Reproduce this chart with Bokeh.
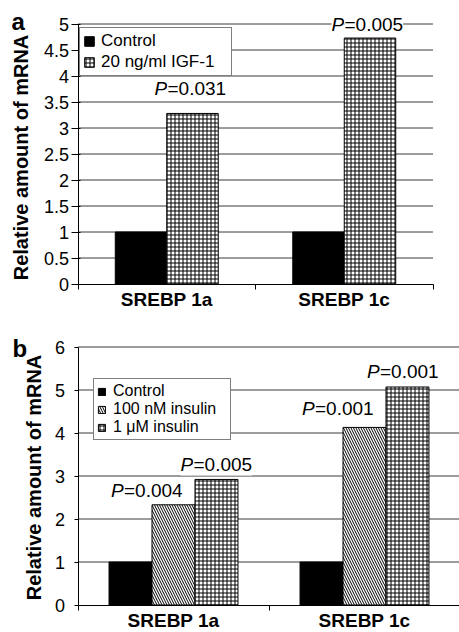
import math
from bokeh.plotting import figure
from bokeh.layouts import column
from bokeh.models import Range1d, FixedTicker, Label, LabelSet, ColumnDataSource
from bokeh.core.properties import value
from bokeh.embed import file_html
from bokeh.resources import INLINE

# ---------------- data ----------------
CATEGORIES = ["SREBP 1a", "SREBP 1c"]

A_SERIES = ["Control", "20 ng/ml IGF-1"]
A_CONTROL = [1.0, 1.0]
A_IGF = [3.28, 4.73]
A_P_TEXT = ["=0.031", "=0.005"]
A_YTICKS = [0, 0.5, 1, 1.5, 2, 2.5, 3, 3.5, 4, 4.5, 5]
A_YLABELS = ["0", "0.5", "1", "1.5", "2", "2.5", "3", "3.5", "4", "4.5", "5"]

B_SERIES = ["Control", "100 nM insulin", "1 \u03bcM insulin"]
B_CONTROL = [1.0, 1.0]
B_INS100 = [2.33, 4.13]
B_INS1 = [2.92, 5.07]
B_P100_TEXT = ["=0.004", "=0.001"]
B_P1_TEXT = ["=0.005", "=0.001"]
B_YTICKS = [0, 1, 2, 3, 4, 5, 6]
B_YLABELS = ["0", "1", "2", "3", "4", "5", "6"]

Y_TITLE = "Relative amount of mRNA"
P_LETTER = "P"
PANEL_A = "a"
PANEL_B = "b"

# ---------------- style / layout ----------------
FONT = "Liberation Sans"
GRID = "#3a3a3a"
P_SIZE = "19px"
P_SHIFT = 13
W = 459

CAT_POS = [i + 0.5 for i in range(len(CATEGORIES))]


class Geo:
    """pixel layout of one panel: canvas position of data (0,0) and px per unit"""
    def __init__(self, height, x0, y0, sx, sy):
        self.h, self.x0, self.y0, self.sx, self.sy = height, x0, y0, sx, sy

    def xr(self):
        return Range1d(-self.x0 / self.sx, (W - self.x0) / self.sx)

    def yr(self):
        return Range1d(-(self.h - self.y0) / self.sy, self.y0 / self.sy)

    def dx(self, px):
        return (px - self.x0) / self.sx

    def dy(self, py):
        return (self.y0 - py) / self.sy


def base_fig(g, ymax, xmax, yticks, ylabels, tick_out, tick_in, lab_standoff,
             title_px, letter, letter_px):
    p = figure(width=W, height=g.h, output_backend="svg", toolbar_location=None,
               x_range=g.xr(), y_range=g.yr(),
               min_border_left=0, min_border_right=0,
               min_border_top=0, min_border_bottom=0)
    p.outline_line_color = None
    p.background_fill_color = "white"
    p.border_fill_color = "white"
    p.grid.visible = False

    # horizontal grid lines from the tick values
    gt = [t for t in yticks if t > 0]
    p.segment(x0=[0] * len(gt), x1=[xmax] * len(gt), y0=gt, y1=gt,
              line_color=GRID, line_width=1)

    ya = p.yaxis[0]
    ya.fixed_location = 0
    ya.bounds = (0, ymax)
    ya.ticker = FixedTicker(ticks=yticks)
    ya.major_label_overrides = dict(zip(yticks, ylabels))
    ya.major_tick_out = tick_out
    ya.major_tick_in = tick_in
    ya.minor_tick_line_color = None
    ya.major_label_standoff = lab_standoff
    ya.major_label_text_font = FONT
    ya.major_label_text_font_size = "18px"
    ya.major_label_text_color = "black"
    ya.axis_line_color = "black"
    ya.major_tick_line_color = "black"

    xa = p.xaxis[0]
    xa.fixed_location = 0
    xa.bounds = (0, 2)
    xa.ticker = FixedTicker(ticks=CAT_POS, minor_ticks=[0, 1, 2])
    xa.major_label_overrides = dict(zip(CAT_POS, CATEGORIES))
    xa.major_tick_out = 4
    xa.major_tick_in = 0
    xa.major_tick_line_alpha = 0
    xa.minor_tick_out = 5
    xa.minor_tick_in = 0
    xa.minor_tick_line_color = "black"
    xa.axis_line_color = "black"
    xa.major_label_standoff = 0
    xa.major_label_text_font = FONT
    xa.major_label_text_font_size = "19px"
    xa.major_label_text_font_style = "bold"
    xa.major_label_text_color = "black"

    p.add_layout(Label(x=g.dx(title_px[0]), y=g.dy(title_px[1]), text=Y_TITLE,
                       angle=math.pi / 2, text_align="center", text_baseline="middle",
                       text_font=FONT, text_font_size="20px", text_font_style="bold",
                       text_color="black"))
    p.add_layout(Label(x=g.dx(letter_px[0]), y=g.dy(letter_px[1]), text=letter,
                       text_align="left", text_baseline="alphabetic",
                       text_font=FONT, text_font_size="24px", text_font_style="bold",
                       text_color="black"))
    return p


def p_labels(p, xs, ys, texts, dxs, dys):
    src = ColumnDataSource(dict(x=xs, y=ys, t=texts,
                                letter=[P_LETTER] * len(xs),
                                dx=dxs, dxr=[d + P_SHIFT for d in dxs],
                                dy=dys))
    p.add_layout(LabelSet(x="x", y="y", text="letter", source=src,
                          x_offset="dx", y_offset="dy",
                          text_font=value(FONT), text_font_size=P_SIZE,
                          text_font_style="italic", text_align="left",
                          text_baseline="alphabetic", text_color="black",
                          background_fill_color="white"))
    p.add_layout(LabelSet(x="x", y="y", text="t", source=src,
                          x_offset="dxr", y_offset="dy",
                          text_font=value(FONT), text_font_size=P_SIZE,
                          text_align="left", text_baseline="alphabetic",
                          text_color="black", background_fill_color="white"))


def style_legend(p, loc, pad, spacing, gw, gh, standoff, lw, lh, fs):
    lg = p.legend[0]
    lg.location = loc
    lg.margin = 0
    lg.padding = pad
    lg.spacing = spacing
    lg.glyph_width = gw
    lg.glyph_height = gh
    lg.label_standoff = standoff
    lg.label_width = lw
    lg.label_height = lh
    lg.label_text_font = FONT
    lg.label_text_font_size = fs
    lg.label_text_color = "black"
    lg.border_line_color = "black"
    lg.border_line_width = 1
    lg.background_fill_color = "white"
    lg.background_fill_alpha = 1


# ---------------- panel a ----------------
GA = Geo(310, 77.5, 283.5, 177.5, 52.0)
WA = 0.29
pa = base_fig(GA, 5, 2, A_YTICKS, A_YLABELS, 7, 2, 2, (20, 157), PANEL_A, (11, 21))
xa_ctrl = [c - WA / 2 for c in CAT_POS]
xa_igf = [c + WA / 2 for c in CAT_POS]
pa.vbar(x=xa_ctrl, top=A_CONTROL, bottom=0, width=WA, fill_color="black",
        line_color="black", legend_label=A_SERIES[0])
pa.vbar(x=xa_igf, top=A_IGF, bottom=0, width=WA, fill_color="white",
        hatch_pattern="+", hatch_color="black", hatch_scale=4, hatch_weight=1,
        line_color="black", legend_label=A_SERIES[1])
style_legend(pa, (79, 234), 3, 1, 12, 12, 6, 127, 12, "17px")
p_labels(pa, xa_igf, A_IGF, A_P_TEXT, [-38, -38.5], [18, 7])

# ---------------- panel b ----------------
GB = Geo(322, 77.5, 294.5, 191.0, 43.0)
WB = 0.225
pb = base_fig(GB, 6, 2, B_YTICKS, B_YLABELS, 4, 0, 9, (33, 167), PANEL_B, (12, 38))
xb_ctrl = [c - WB for c in CAT_POS]
xb_100 = list(CAT_POS)
xb_1 = [c + WB for c in CAT_POS]
pb.vbar(x=xb_ctrl, top=B_CONTROL, bottom=0, width=WB, fill_color="black",
        line_color="black", legend_label=B_SERIES[0])
pb.vbar(x=xb_100, top=B_INS100, bottom=0, width=WB, fill_color="white",
        hatch_pattern="left_diagonal_line", hatch_color="black", hatch_scale=5,
        hatch_weight=1, line_color="black", legend_label=B_SERIES[1])
pb.vbar(x=xb_1, top=B_INS1, bottom=0, width=WB, fill_color="white",
        hatch_pattern="+", hatch_color="black", hatch_scale=4, hatch_weight=1,
        line_color="black", legend_label=B_SERIES[2])
style_legend(pb, (93, 192), 3, 0, 9, 9, 7, 114, 9, "16px")
p_labels(pb, xb_100, B_INS100, B_P100_TEXT, [-62.5, -62.5], [8, 12])
p_labels(pb, xb_1, B_INS1, B_P1_TEXT, [-36, -40.5], [8, 9])

layout = column(pa, pb, spacing=0)
open("out.html", "w").write(file_html(layout, INLINE))
